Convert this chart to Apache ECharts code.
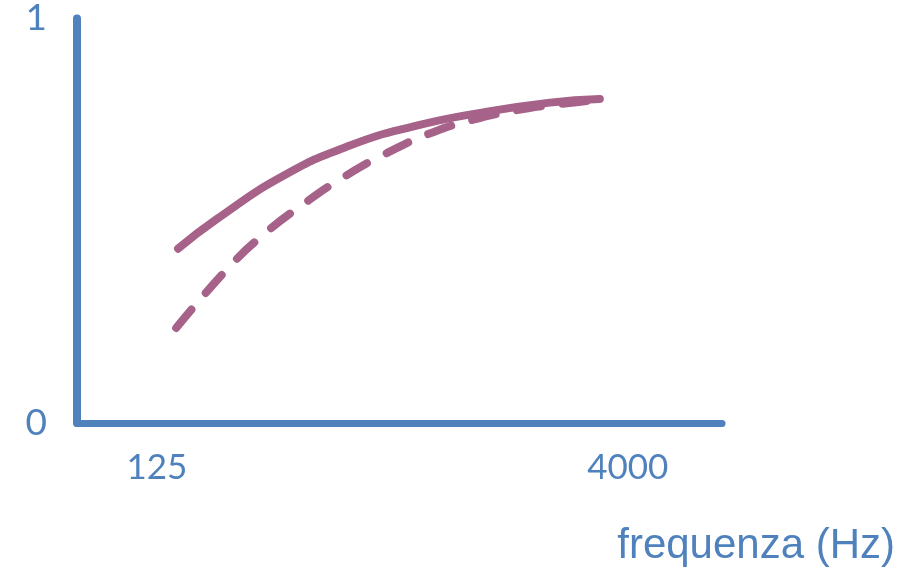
<!DOCTYPE html>
<html>
<head>
<meta charset="utf-8">
<script src="https://cdn.jsdelivr.net/npm/echarts@6/dist/echarts.min.js"></script>
<style>html,body{margin:0;padding:0;background:#fff;}#c{width:923px;height:573px;}</style>
</head>
<body>
<div id="c"></div>
<script>
// Data (frequencies in Hz, absorption-like values 0..1)
var solidFreq = [146, 194, 317, 517, 845, 1379, 2254, 3256];
var solidVals = [0.431, 0.504, 0.611, 0.686, 0.735, 0.768, 0.792, 0.801];
var dashFreq = [144, 214, 277, 367, 499, 678, 955, 1346, 1921, 2742, 3256];
var dashVals = [0.235, 0.388, 0.469, 0.541, 0.610, 0.667, 0.719, 0.754, 0.778, 0.793, 0.800];
var xTickLabels = [125, 4000];
var yTickLabels = [0, 1];
var xAxisName = 'frequenza (Hz)';

function pairs(xs, ys) { return xs.map(function (x, i) { return [x, ys[i]]; }); }

var axisBlue = '#4f81bd';
var curveColor = '#a66289';

var chart = echarts.init(document.getElementById('c'), null, { renderer: 'canvas' });
chart.setOption({
  animation: false,
  backgroundColor: '#ffffff',
  grid: { left: 77, right: 201, top: 18, bottom: 150 },
  xAxis: {
    type: 'log',
    logBase: 2,
    min: 69.4,
    max: 8000,
    name: xAxisName,
    nameLocation: 'end',
    nameGap: 173,
    nameTextStyle: {
      color: axisBlue, fontSize: 42, fontFamily: 'Liberation Sans',
      align: 'right', verticalAlign: 'top', padding: [102, 0, 0, 0]
    },
    axisLine: { show: true, lineStyle: { color: axisBlue, width: 7 } },
    axisTick: { show: false },
    splitLine: { show: false },
    axisLabel: {
      customValues: xTickLabels,
      color: axisBlue, fontSize: 35, fontFamily: 'Lato', margin: 27,
      formatter: function (v) { return String(Math.round(v)); }
    }
  },
  yAxis: {
    type: 'value',
    min: 0,
    max: 1,
    interval: 1,
    axisLine: { show: true, lineStyle: { color: axisBlue, width: 8 } },
    axisTick: { show: false },
    splitLine: { show: false },
    axisLabel: {
      customValues: yTickLabels,
      color: axisBlue, fontSize: 37, fontFamily: 'Lato', margin: 30,
      padding: [9, 0, 0, 0]
    }
  },
  series: [
    {
      type: 'line', smooth: 0.5, symbol: 'none',
      data: pairs(solidFreq, solidVals),
      lineStyle: { color: curveColor, width: 8, cap: 'round', join: 'round' }
    },
    {
      type: 'line', smooth: 0.5, symbol: 'none',
      data: pairs(dashFreq, dashVals),
      lineStyle: { color: curveColor, width: 8, cap: 'round', join: 'round', type: [24, 22] }
    }
  ]
});
</script>
</body>
</html>
